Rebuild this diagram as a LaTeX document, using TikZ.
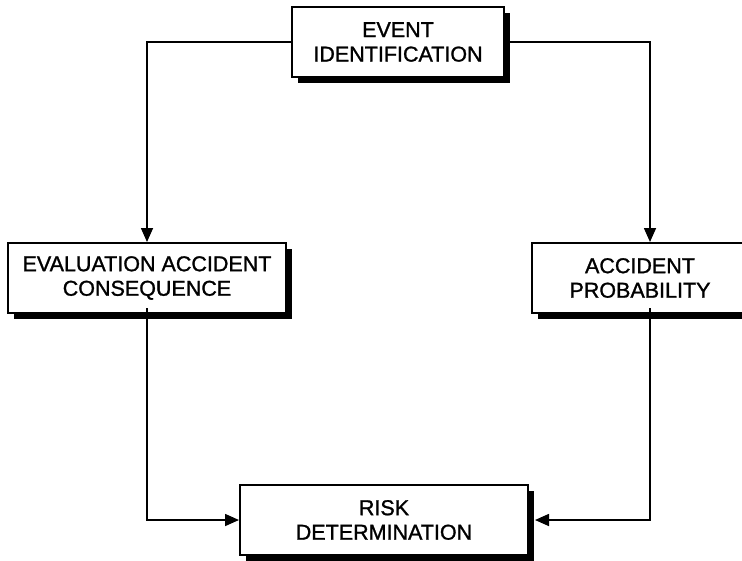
\documentclass[tikz,border=0pt]{standalone}
\usepackage{fontspec}
\setmainfont{Liberation Sans}
\newfontfamily\boxfont[FakeBold=1.2]{Liberation Sans}
\usetikzlibrary{shadows,arrows.meta}
\begin{document}
\begin{tikzpicture}[x=1pt,y=-1pt,
  box/.style={draw, line width=2pt, fill=white, align=center, inner sep=0pt,
    minimum height=70pt, font=\boxfont\fontsize{21.5}{24.5}\selectfont,
    drop shadow={shadow xshift=6pt, shadow yshift=-6pt, fill=black, opacity=1}},
  conn/.style={line width=1.6pt, -{Triangle[length=14pt,width=12pt]}}]
\useasboundingbox (0,0) rectangle (742,560);
\node[box, minimum width=212pt] (evt) at (398,42) {EVENT\\IDENTIFICATION};
\node[box, minimum width=278pt] (cons) at (147,278) {EVALUATION ACCIDENT\\CONSEQUENCE};
\node[box, minimum width=216pt] (prob) at (640,278) {ACCIDENT\\PROBABILITY};
\node[box, minimum width=288pt] (risk) at (384,520) {RISK\\DETERMINATION};
\draw[conn] (evt.west) -| (cons.north);
\draw[conn] (evt.east) -| ([xshift=10pt]prob.north);
\draw[conn] ([yshift=6pt]cons.south) |- (risk.west);
\draw[conn] ([xshift=10pt,yshift=6pt]prob.south) |- ([xshift=6pt]risk.east);
\end{tikzpicture}
\end{document}
